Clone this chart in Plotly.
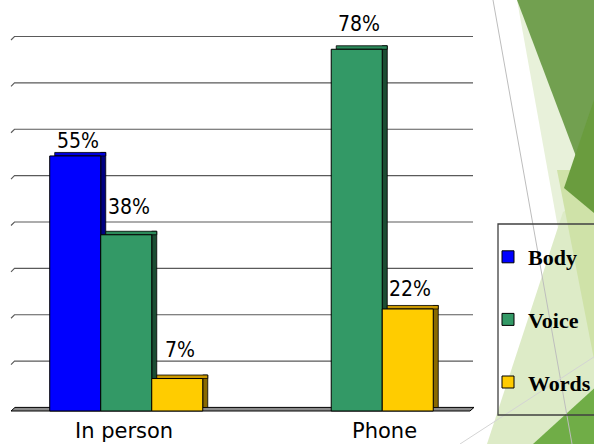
import plotly.graph_objects as go

# ---------------- data ----------------
categories = ["In person", "Phone"]
series_names = ["Body", "Voice", "Words"]
body_pct = [55, 0]
voice_pct = [38, 78]
words_pct = [7, 22]
y_ticks = [0, 10, 20, 30, 40, 50, 60, 70, 80]

# ---------------- layout geometry (style) ----------------
W, H = 594, 444
L, R, T, B = 11, 122, 35, 30
PW, PH = W - L - R, H - T - B
Y_MIN, Y_MAX = -0.647, 81.08


def X(px):
    return (px - L) / PW


def Y(py):
    return (H - B - py) / PH


front_cols = ["#0000FF", "#339966", "#FFCC00"]
top_cols = ["#0000DD", "#2C8A5A", "#CC9900"]
side_cols = ["#000080", "#1B4D33", "#8A6A00"]

bar_w = 0.2213
offsets = [-0.332, -0.1107, 0.1106]
dx = 0.0217      # depth to the right (x units)
dy = 0.755       # depth upwards (y units)
label_lift = [[1, 0], [14, 11], [15, 6]]   # extra pixel lift of value labels

series = [body_pct, voice_pct, words_pct]

fig = go.Figure()
annotations = []
for i, (name, vals) in enumerate(zip(series_names, series)):
    v = [val if val else None for val in vals]
    # side face
    fig.add_trace(go.Bar(
        x=categories, y=v, base=dy, offset=offsets[i] + bar_w, width=dx,
        marker=dict(color=side_cols[i], line=dict(color="#000000", width=0.8)),
        showlegend=False, hoverinfo="skip"))
    # top face
    fig.add_trace(go.Bar(
        x=categories, y=[dy if val else None for val in vals], base=v,
        offset=offsets[i] + dx, width=bar_w,
        marker=dict(color=top_cols[i], line=dict(color="#000000", width=0.8)),
        showlegend=False, hoverinfo="skip"))
    # front face
    fig.add_trace(go.Bar(
        x=categories, y=v, offset=offsets[i], width=bar_w, name=name,
        legendgroup=name,
        marker=dict(color=front_cols[i], line=dict(color="#000000", width=1))))
    # value labels
    for k, val in enumerate(vals):
        if not val:
            continue
        annotations.append(dict(
            x=k + offsets[i] + (bar_w + dx) / 2, y=val, xref="x", yref="y",
            text=f"{val}%", showarrow=False, yanchor="bottom",
            yshift=label_lift[i][k],
            font=dict(family="DejaVu Sans Condensed, DejaVu Sans", size=21,
                      color="#000000")))

shapes = []

# decorative background (slide theme)
def poly(pts, color):
    path = "M " + " L ".join(f"{X(a):.5f},{Y(b):.5f}" for a, b in pts) + " Z"
    return dict(type="path", xref="paper", yref="paper", path=path,
                fillcolor=color, line=dict(width=0), layer="below")

shapes.append(poly([(517, 0), (600, 0), (600, 330), (558, 228)], "#E8F1DA"))
shapes.append(poly([(487, 444), (563, 212), (600, 190), (600, 444)], "#DDEBC7"))
shapes.append(poly([(557, 170), (600, 170), (600, 390)], "#CFE2A8"))
shapes.append(poly([(517, 0), (600, 0), (600, 220)], "#72A050"))
shapes.append(poly([(600, 82), (564, 188), (600, 218)], "#6A9C3E"))
shapes.append(poly([(600, 383), (533, 444), (600, 444)], "#70AD47"))
shapes.append(dict(type="line", xref="paper", yref="paper",
                   x0=X(493), y0=Y(0), x1=X(572), y1=Y(444),
                   line=dict(color="#BDBDBD", width=1), layer="below"))
shapes.append(dict(type="line", xref="paper", yref="paper",
                   x0=X(460), y0=Y(444), x1=X(600), y1=Y(353),
                   line=dict(color="#D4D4D4", width=1), layer="below"))

# back-wall gridlines (shifted by depth) with slanted left stroke
for v in y_ticks[1:]:
    shapes.append(dict(type="path", xref="paper", yref="y", ysizemode="pixel",
                       yanchor=v,
                       path=f"M {X(11):.5f},0 L {X(14.5):.5f},3.5 L {X(473):.5f},3.5",
                       line=dict(color="#5A5A5A", width=1.1), layer="below"))
# floor plate
shapes.append(dict(type="path", xref="paper", yref="y", ysizemode="pixel",
                   yanchor=y_ticks[0],
                   path=f"M {X(11):.5f},0 L {X(15):.5f},3.6 L {X(474):.5f},3.6 L {X(470):.5f},0 Z",
                   fillcolor="#8C8C8C", line=dict(color="#000000", width=1),
                   layer="below"))
# legend frame
shapes.append(dict(type="rect", xref="paper", yref="paper",
                   x0=X(498), y0=Y(415), x1=X(602), y1=Y(224),
                   line=dict(color="#404040", width=1.3), fillcolor="rgba(0,0,0,0)",
                   layer="above"))

label_xshift = [-2, 28]
for k, c in enumerate(categories):
    annotations.append(dict(x=c, y=0, xref="x", yref="y", text=c, showarrow=False,
                            yanchor="top", yshift=-6, xshift=label_xshift[k],
                            font=dict(family="DejaVu Sans", size=21, color="#000000")))

fig.update_layout(
    width=W, height=H,
    margin=dict(l=L, r=R, t=T, b=B, pad=0, autoexpand=False),
    paper_bgcolor="#FFFFFF", plot_bgcolor="rgba(0,0,0,0)",
    barmode="overlay",
    shapes=shapes, annotations=annotations,
    xaxis=dict(type="category", categoryorder="array", categoryarray=categories,
               range=[-0.5, 1.5], showgrid=False, showticklabels=False,
               zeroline=False, showline=False, ticks=""),
    yaxis=dict(range=[Y_MIN, Y_MAX], showgrid=False, showticklabels=False,
               zeroline=False, showline=False, ticks="", tickvals=y_ticks),
    legend=dict(xref="container", yref="container",
                x=488 / W, y=1 - 236 / H, xanchor="left", yanchor="top",
                bgcolor="rgba(0,0,0,0)", borderwidth=0, traceorder="grouped",
                tracegroupgap=31,
                font=dict(family="Liberation Serif", size=22, color="#000000",
                          weight="bold")),
    showlegend=True,
)

fig.write_html("out.html")
